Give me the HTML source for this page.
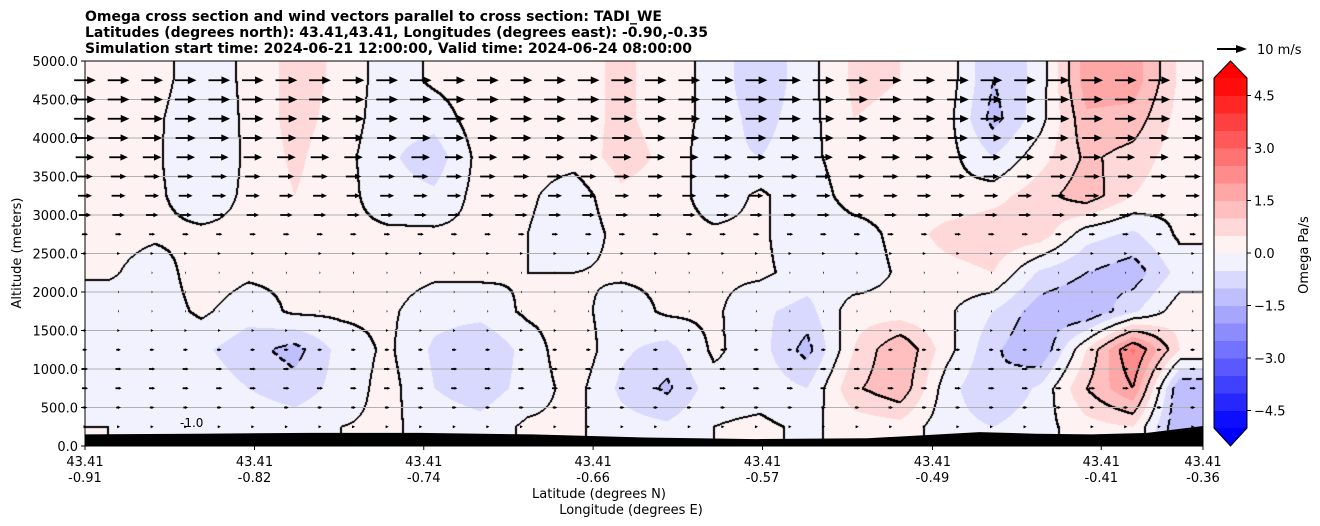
<!DOCTYPE html>
<html><head><meta charset="utf-8">
<style>
body{margin:0;background:#fff;width:1320px;height:526px;overflow:hidden;position:relative;font-family:"DejaVu Sans","Liberation Sans",sans-serif;}
#cv{position:absolute;left:85px;top:61px;}
#ov{position:absolute;left:0;top:0;}
</style></head><body>
<canvas id="cv" width="1118" height="385"></canvas>
<svg id="ov" width="1320" height="526" xmlns="http://www.w3.org/2000/svg">
<g font-size="14" font-weight="bold">
<text x="85" y="21">Omega cross section and wind vectors parallel to cross section: TADI_WE</text>
<text x="85" y="37">Latitudes (degrees north): 43.41,43.41, Longitudes (degrees east): -0.90,-0.35</text>
<text x="85" y="53">Simulation start time: 2024-06-21 12:00:00, Valid time: 2024-06-24 08:00:00</text>
</g>
<g id="grid"></g>
<path id="terrain" fill="#000"/>
<g id="arrows"></g>
<text x="180" y="427" font-size="12">-1.0</text>
<rect x="85" y="61" width="1118" height="385" fill="none" stroke="#000" stroke-width="1"/>
<g id="yticks" font-size="13" text-anchor="end"></g>
<text transform="translate(21,253) rotate(-90)" text-anchor="middle" font-size="13">Altitude (meters)</text>
<g id="xticks" font-size="13" text-anchor="middle"></g>
<text x="599" y="498" text-anchor="middle" font-size="13">Latitude (degrees N)</text>
<text x="631" y="514" text-anchor="middle" font-size="13">Longitude (degrees E)</text>
<g id="cbar"></g>
<text transform="translate(1308,255) rotate(-90)" text-anchor="middle" font-size="13">Omega Pa/s</text>
<g>
<line x1="1217" y1="49" x2="1238" y2="49" stroke="#000" stroke-width="2"/>
<polygon points="1236,45 1247,49 1236,53" fill="#000"/>
<text x="1257" y="54" font-size="13">10 m/s</text>
</g>
</svg>
<script>
// ---- data ----
const omegaAlts = [4750,4250,3750,3250,2750,2250,1750,1250,750,250];
const omegaGrid = [
[0.4,0.2,-0.3,0.1,0.7,0.4,-0.3,0.1,0.3,0.2,0.3,0.6,0.3,-0.2,-0.9,-0.2,0.6,0.5,0.3,-1.0,-0.3,1.8,1.8,0.4],
[0.4,0.1,-0.4,0.1,0.7,0.3,-0.3,-0.3,0.3,0.2,0.3,0.6,0.3,-0.2,-0.7,-0.2,0.5,0.4,0.2,-1.2,-0.2,1.4,1.3,0.3],
[0.5,0.1,-0.5,0.1,0.6,0.2,-0.4,-0.8,0.2,0.2,0.2,0.7,0.4,-0.4,-0.5,-0.2,0.4,0.3,0.2,-0.5,0.3,1.1,0.8,0.2],
[0.4,0.1,-0.3,0.1,0.5,0.2,-0.3,-0.4,0.2,0.1,-0.3,0.4,0.3,-0.3,0.1,-0.4,0.3,0.2,0.1,0.3,0.8,1.3,0.5,0.1],
[0.2,0.1,0.1,0.1,0.2,0.1,0.1,0.1,0.1,0.0,-0.4,0.2,0.2,0.1,0.1,-0.4,-0.3,0.2,0.7,0.9,0.8,-0.3,-0.6,0.1],
[0.1,-0.3,0.3,0.1,0.1,0.1,0.2,0.1,0.1,0.0,0.0,0.1,0.1,0.1,0.1,-0.2,-0.4,0.1,0.3,0.5,-0.6,-1.0,-1.3,-0.3],
[-0.4,-0.3,0.1,-0.3,0.1,0.1,0.1,-0.3,-0.3,0.1,0.2,-0.3,0.1,0.1,-0.4,-0.7,0.3,0.2,0.1,-0.5,-1.3,-1.5,-0.6,0.3],
[-0.5,-0.4,-0.4,-0.8,-1.2,-0.3,0.1,-0.6,-1.0,-0.3,0.4,-0.4,-0.7,0.1,-0.3,-1.2,0.5,1.5,0.2,-0.9,-1.5,0.5,2.6,0.5],
[-0.3,-0.2,-0.2,-0.5,-0.8,-0.3,0.2,-0.5,-0.8,-0.3,0.2,-0.6,-1.1,-0.2,-0.2,-0.5,0.9,1.4,-0.3,-1.0,-0.4,1.0,2.0,-1.5],
[0.0,-0.2,-0.4,-0.1,-0.2,0.0,0.1,-0.2,-0.3,0.1,0.1,-0.3,-0.4,0.0,0.1,-0.1,0.2,0.3,-0.3,-0.5,-0.2,0.3,0.5,-1.5]
];
const contourLevels = [-1,0,1,2];
const windAlts = [4750,4500,4250,4000,3750,3500,3250,3000,2750,2500,2250,2000,1750,1500,1250,1000,750,500,250];
const windSpeeds = [7,7,7,6.5,6,5,4.5,4,2,1,0.3,0.3,0.3,0.8,1.5,2,2,1.5,1];
const terrainFrac = [0,0.1,0.2,0.3,0.4,0.5,0.6,0.7,0.75,0.8,0.85,0.9,0.95,1];
const terrainHeights = [150,160,170,170,150,110,90,100,140,180,160,150,170,260];
const yTicks = [0,500,1000,1500,2000,2500,3000,3500,4000,4500,5000];
const xTickFrac = [0,0.1516,0.303,0.4545,0.606,0.758,0.909,1];
const xTickLat = ["43.41","43.41","43.41","43.41","43.41","43.41","43.41","43.41"];
const xTickLon = ["-0.91","-0.82","-0.74","-0.66","-0.57","-0.49","-0.41","-0.36"];
const cbarTicks = [-4.5,-3.0,-1.5,0.0,1.5,3.0,4.5];

// ---- axes ----
const X0=85,X1=1203,Y0=446,Y1=61;
const xS=f=>X0+f*(X1-X0);
const yS=a=>Y0-a/5000*(Y0-Y1);
const NS="http://www.w3.org/2000/svg";
function mk(tag,attrs,parent){const e=document.createElementNS(NS,tag);for(const k in attrs)e.setAttribute(k,attrs[k]);parent.appendChild(e);return e;}
function bwr(v){const n=Math.max(0,Math.min(1,(v+5)/10));let r,g,b;if(n<0.5){r=g=2*n;b=1;}else{r=1;g=b=2*(1-n);}return [Math.round(r*255),Math.round(g*255),Math.round(b*255)];}
function band(v){let m=(Math.floor(v/0.5)+0.5)*0.5;return Math.max(-5.5,Math.min(5.5,m));}

// ---- field ----
const W=1118,H=385,nc=omegaGrid[0].length,nr=omegaAlts.length;
function field(px,py){
  let cx=(px+0.5)/W*nc-0.5; cx=Math.max(0,Math.min(nc-1,cx));
  const alt=5000*(1-(py+0.5)/H);
  let ry=(omegaAlts[0]-alt)/(omegaAlts[0]-omegaAlts[1]); ry=Math.max(0,Math.min(nr-1,ry));
  const i=Math.min(nc-2,Math.floor(cx)),j=Math.min(nr-2,Math.floor(ry));
  const fx=cx-i,fy=ry-j;
  const a=omegaGrid[j][i],b=omegaGrid[j][i+1],c=omegaGrid[j+1][i],d=omegaGrid[j+1][i+1];
  return (a*(1-fx)+b*fx)*(1-fy)+(c*(1-fx)+d*fx)*fy;
}
const F=new Float32Array(W*H);
for(let y=0;y<H;y++)for(let x=0;x<W;x++)F[y*W+x]=field(x,y);
const ctx=document.getElementById('cv').getContext('2d');
const img=ctx.createImageData(W,H);
for(let p=0;p<W*H;p++){const c=bwr(band(F[p]));img.data[p*4]=c[0];img.data[p*4+1]=c[1];img.data[p*4+2]=c[2];img.data[p*4+3]=255;}
for(const lv of contourLevels){
  for(let y=0;y<H-1;y++)for(let x=0;x<W-1;x++){
    const s=F[y*W+x]>=lv, sr=F[y*W+x+1]>=lv, sd=F[(y+1)*W+x]>=lv;
    if(s!==sr||s!==sd){
      if(lv<0 && ((x+y)%14)>8) continue;
      for(const q of [y*W+x,y*W+x+1,(y+1)*W+x]){img.data[q*4]=0;img.data[q*4+1]=0;img.data[q*4+2]=0;}
    }
  }
}
ctx.putImageData(img,0,0);

// grid + y ticks
const grid=document.getElementById('grid'),yt=document.getElementById('yticks');
for(const t of yTicks){
  const y=yS(t);
  const gl=mk('line',{x1:X0,x2:X1,y1:y,y2:y,stroke:'#b0b0b0','stroke-width':1},grid);
  
  
  mk('line',{x1:X0-4,x2:X0,y1:y,y2:y,stroke:'#000'},yt);
  const tx=mk('text',{x:X0-7,y:y+5},yt); tx.textContent=t.toFixed(1);
  
  
}
// x ticks
const xt=document.getElementById('xticks');
xTickFrac.forEach((f,i)=>{
  const x=xS(f);
  mk('line',{x1:x,x2:x,y1:Y0,y2:Y0+4,stroke:'#000'},xt);
  const t1=mk('text',{x:x,y:466},xt);t1.textContent=xTickLat[i];
  
  
  const t2=mk('text',{x:x,y:482},xt);t2.textContent=xTickLon[i];
  
  
});
// terrain
let d='M'+X0+','+Y0;
terrainFrac.forEach((f,i)=>{d+=' L'+xS(f).toFixed(1)+','+yS(terrainHeights[i]).toFixed(1);});
d+=' L'+X1+','+Y0+' Z';
document.getElementById('terrain').setAttribute('d',d);
// arrows
const ag=document.getElementById('arrows');
const pxPerMs=3.1, nCols=34;
windAlts.forEach((a,r)=>{
  const sp=windSpeeds[r];const L=sp*pxPerMs;const y=yS(a);
  for(let i=0;i<nCols;i++){
    const cx=X0+i*(X1-X0)/33.3;
    if(cx>X1) continue;
    const x0=cx-L/2,x1=cx+L/2;
    const hl=Math.min(L,Math.max(3,L*0.4)),hw=Math.max(1.5,Math.min(4,L*0.18));
    const g=mk('g',{},ag);
    
    
    if(L>hl) mk('line',{x1:x0,x2:x1-hl+1,y1:y,y2:y,stroke:'#000','stroke-width':1.8},g);
    mk('polygon',{points:`${x1-hl},${y-hw} ${x1},${y} ${x1-hl},${y+hw}`,fill:'#000'},g);
  }
});
// colorbar
const cb=document.getElementById('cbar');
const CX=1214,CW=33,CT=78,CB=428;
const cy=v=>CB-(v+5)/10*(CB-CT);
for(let k=0;k<20;k++){
  const lo=-5+k*0.5;const c=bwr(lo+0.25);
  const r=mk('rect',{x:CX,y:cy(lo+0.5),width:CW,height:cy(lo)-cy(lo+0.5)+0.5,fill:`rgb(${c})`},cb);
  
  
}
mk('polygon',{points:`${CX},${CT} ${CX+CW/2},61 ${CX+CW},${CT}`,fill:'#ff0000'},cb);
mk('polygon',{points:`${CX},${CB} ${CX+CW/2},446 ${CX+CW},${CB}`,fill:'#0000ff'},cb);
mk('polygon',{points:`${CX},${CT} ${CX+CW/2},61 ${CX+CW},${CT} ${CX+CW},${CB} ${CX+CW/2},446 ${CX},${CB}`,fill:'none',stroke:'#000','stroke-width':1},cb);
for(const t of cbarTicks){
  const y=cy(t);
  mk('line',{x1:CX+CW,x2:CX+CW+4,y1:y,y2:y,stroke:'#000'},cb);
  const tx=mk('text',{x:CX+CW+7,y:y+5,'font-size':13},cb);
  tx.textContent=(t<0?'\u2212':'')+Math.abs(t).toFixed(1);
  
  
}
</script>
</body></html>
